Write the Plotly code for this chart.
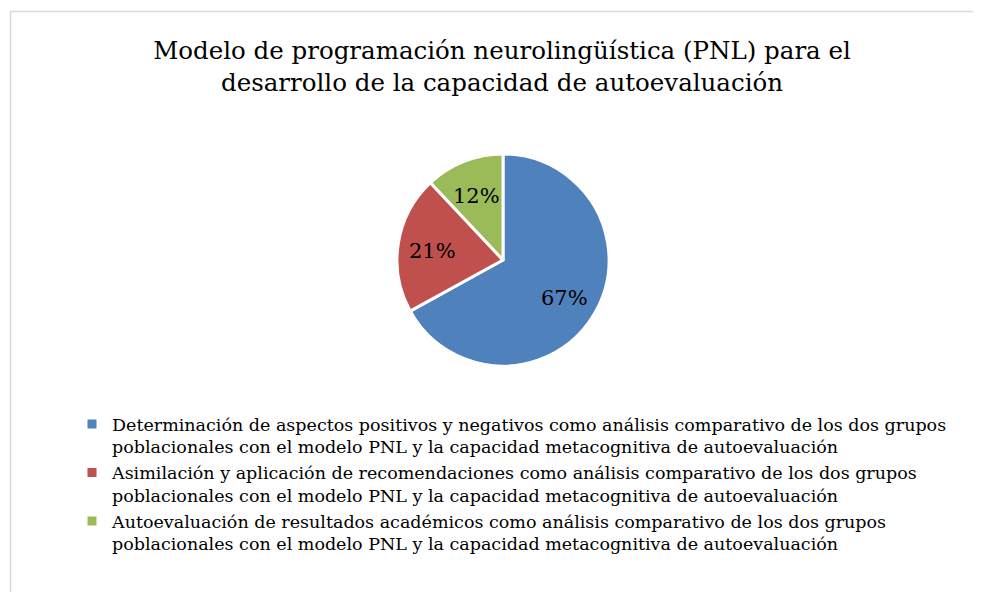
import math
import plotly.graph_objects as go

labels = [
    "Determinación de aspectos positivos y negativos como análisis comparativo de los dos grupos<br>poblacionales con el modelo PNL y la capacidad metacognitiva de autoevaluación",
    "Asimilación y aplicación de recomendaciones como análisis comparativo de los dos grupos<br>poblacionales con el modelo PNL y la capacidad metacognitiva de autoevaluación",
    "Autoevaluación de resultados académicos como análisis comparativo de los dos grupos<br>poblacionales con el modelo PNL y la capacidad metacognitiva de autoevaluación",
]
values = [67, 21, 12]
colors = ["#4F81BD", "#C0504D", "#9BBB59"]
title_text = "Modelo de programación neurolingüística (PNL) para el<br>desarrollo de la capacidad de autoevaluación"

FONT = "DejaVu Serif"
OFF = 8  # browser body margin
W, H = 981 - OFF, 592 - OFF


def px(X):
    return (X - OFF) / W


def py(Y):
    return 1 - (Y - OFF) / H


cx, cy, r = 503, 260, 106
label_r = 0.67  # labels placed at 67% of the radius, on each slice's mid-angle

fig = go.Figure(go.Pie(
    labels=labels,
    values=values,
    sort=False,
    direction="clockwise",
    rotation=0,
    marker=dict(colors=colors, line=dict(color="white", width=3)),
    textinfo="none",
    hoverinfo="label+percent",
    domain=dict(x=[px(cx - r), px(cx + r)], y=[py(cy + r), py(cy - r)]),
))

# percentage labels, positioned from the data (mid-angle of each slice)
total = sum(values)
cum = 0
annotations = []
for v in values:
    mid = (cum + v / 2) / total * 2 * math.pi
    cum += v
    X = cx + label_r * r * math.sin(mid)
    Y = cy - label_r * r * math.cos(mid) + 2
    annotations.append(dict(
        x=px(X), y=py(Y), xref="paper", yref="paper",
        text=f"{round(v / total * 100)}%", showarrow=False,
        xanchor="center", yanchor="middle",
        font=dict(family=FONT, size=21, color="black"),
    ))

fig.update_layout(
    width=W, height=H,
    margin=dict(l=0, r=0, t=0, b=0),
    paper_bgcolor="white",
    plot_bgcolor="white",
    font=dict(family=FONT, color="black"),
    title=dict(text=title_text, x=px(502), xanchor="center", y=py(59), yanchor="top",
               font=dict(family=FONT, size=24.5, color="black")),
    annotations=annotations,
    showlegend=True,
    legend=dict(
        orientation="v",
        x=px(72), xanchor="left",
        y=py(406), yanchor="top",
        font=dict(family=FONT, size=17.5, color="black"),
        tracegroupgap=0,
        itemwidth=30,
        valign="top",
        bgcolor="rgba(0,0,0,0)",
    ),
    shapes=[dict(type="rect", xref="paper", yref="paper",
                 x0=px(10.5), x1=1.05, y0=-0.05, y1=py(11.5),
                 line=dict(color="#D9D9D9", width=1.5), layer="below")],
)

fig.write_html("out.html")
